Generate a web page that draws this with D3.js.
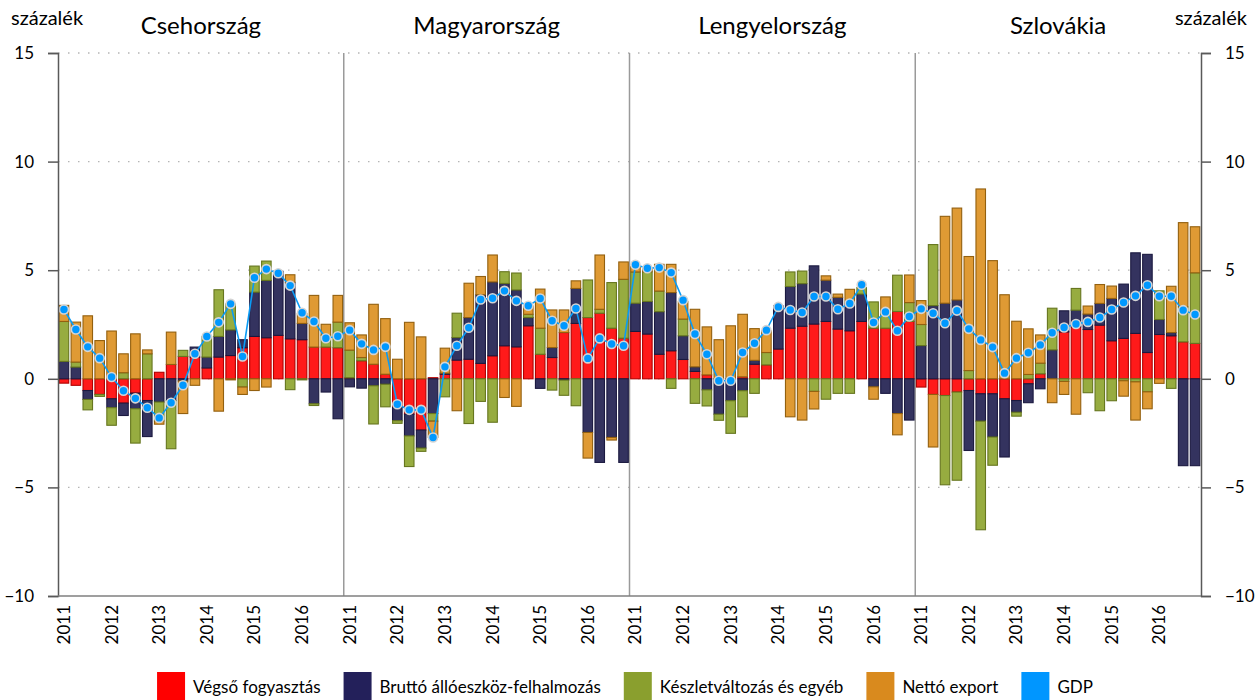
<!DOCTYPE html>
<html>
<head>
<meta charset="utf-8">
<script src="https://cdn.jsdelivr.net/npm/d3@7"></script>
<style>
    body { margin: 0; background: #fff; }
    svg { font-family: Lato, 'Open Sans', sans-serif; }
</style>
</head>
<body>
<div id="chart"></div>
<script>
const countries = ['Csehország', 'Magyarország', 'Lengyelország', 'Szlovákia'];
const years = ['2011', '2012', '2013', '2014', '2015', '2016'];
const seriesNames = ['Végső fogyasztás', 'Bruttó állóeszköz-felhalmozás', 'Készletváltozás és egyéb', 'Nettó export', 'GDP'];
const yTicks = [-10, -5, 0, 5, 10, 15];

// quarterly contributions, 2011 Q1 - 2016 Q4 (percentage points)
const czConsumption = [-0.2, -0.3, -0.54, -0.72, -0.92, -1.12, -0.66, -1.0, 0.3, 0.66, 1.03, 1.0, 0.5, 1.0, 1.07, 1.43, 1.95, 1.89, 2.0, 1.84, 1.8, 1.46, 1.46, 1.43];
const czInvestment = [0.8, 0.54, -0.41, 0, -0.41, -0.57, -0.72, -1.66, -1.07, -1.0, -0.1, 0.46, 0.5, 0.95, 1.18, 0.37, 2.04, 2.64, 2.95, 2.6, 0.75, -1.15, -0.61, -1.84];
const czInventory = [1.84, 0.23, -0.48, -0.09, -0.81, 0.28, -1.58, 1.15, -0.87, -2.22, 0.28, 0, 0.95, 2.15, 1.2, -0.38, 1.2, 0.89, 0, -0.5, -0.05, -0.08, 0.55, 1.18];
const czNetExport = [0.74, 1.84, 2.9, 1.76, 2.2, 0.87, 2.07, 0.18, -0.15, 1.49, -1.5, -0.3, 0, -1.49, -0.05, -0.34, -0.54, -0.38, 0, 0.35, 0.45, 2.38, 0.5, 1.23];
const czGdp = [3.19, 2.27, 1.47, 0.95, 0.08, -0.55, -0.9, -1.33, -1.8, -1.1, -0.3, 1.15, 1.95, 2.6, 3.45, 1.03, 4.65, 5.05, 4.86, 4.29, 3.04, 2.64, 1.87, 1.96];

const huConsumption = [0.05, 0.83, 0.67, 0.21, -1.32, -1.63, -2.36, 0.05, 0.21, 0.86, 0.9, 0.71, 1.06, 1.52, 1.47, 2.44, 1.13, 0.98, 2.13, 2.55, 2.82, 3.02, 2.33, 1.87];
const huInvestment = [-0.37, -0.43, -0.32, -0.25, -0.61, -1.0, -0.83, -1.6, 0.05, 1.04, 1.92, 3.16, 3.4, 2.87, 2.62, 0.38, -0.44, 0.46, -0.06, 1.61, -2.47, -3.85, -2.7, -3.85];
const huInventory = [1.27, 0.15, -1.76, -1.04, -0.12, -1.41, -0.15, -0.35, -0.83, 1.12, -2.06, -1.04, -2.0, 0.54, 0.78, 0.15, 1.2, -0.52, -0.7, -1.24, 1.73, 0.18, 2.1, 2.71];
const huNetExport = [1.26, 1.04, 2.76, 2.56, 0.9, 2.6, 1.93, -0.75, 1.15, -1.47, 1.58, 0.84, 1.24, -0.86, -1.27, 0.38, 1.8, 1.73, 1.04, 0.35, -1.18, 2.5, -0.12, 0.8];
const huGdp = [2.24, 1.61, 1.33, 1.47, -1.17, -1.43, -1.43, -2.7, 0.55, 1.52, 2.35, 3.65, 3.71, 4.05, 3.59, 3.36, 3.7, 2.67, 2.44, 3.24, 0.94, 1.86, 1.6, 1.52];

const plConsumption = [2.18, 2.06, 1.13, 1.29, 0.89, 0.34, 0.18, 0, 0, 0.09, 0.67, 0.64, 1.37, 2.33, 2.42, 2.52, 2.64, 2.29, 2.21, 2.64, 2.33, 2.33, 3.1, 2.64];
const plInvestment = [1.3, 1.5, 1.96, 2.68, 1.09, 0.21, -0.51, -1.63, -1.01, -0.55, 0.18, 0, 1.99, 1.92, 1.96, 2.68, 1.9, 1.46, 1.27, 1.26, -0.37, -0.67, -1.6, -1.9];
const plInventory = [1.44, 1.37, 0.95, -0.44, 0.77, -1.13, -0.74, -0.28, -1.5, -1.2, -0.67, 0.57, 0, 0.67, 0.58, -0.58, -0.94, -0.67, -0.67, 0.3, 1.21, 0.8, 1.67, 0.87];
const plNetExport = [0.25, 0.15, 1.23, 1.3, 0.81, 2.65, 2.21, 1.8, 2.44, 2.88, 1.46, 1.0, 0, -1.75, -1.9, -0.81, 0.2, 0.15, 0.64, 0, -0.57, 0.64, -0.98, 1.27];
const plGdp = [5.25, 5.09, 5.12, 4.89, 3.62, 2.06, 1.13, -0.09, -0.09, 1.21, 1.64, 2.24, 3.31, 3.17, 3.05, 3.79, 3.79, 3.2, 3.47, 4.33, 2.59, 3.08, 2.21, 2.87];

const skConsumption = [-0.38, -0.72, -0.77, -0.61, -0.54, -0.69, -0.69, -0.92, -1.0, -0.23, 0.23, 0, 2.16, 2.39, 2.27, 2.47, 1.75, 1.86, 2.09, 1.21, 2.04, 1.98, 1.7, 1.63];
const skInvestment = [1.53, 3.37, 3.48, 3.63, -2.76, -1.26, -1.99, -2.68, -0.54, -0.87, -0.46, 1.33, 0.97, 0.77, 0.71, 1.0, 1.95, 2.5, 3.71, 4.52, 0.69, 0.15, -4.0, -4.0];
const skInventory = [0.97, 2.81, -4.11, -4.06, 0.38, -5.0, -1.3, 0, -0.18, 0.2, 0.49, 1.92, -0.12, 1.0, -0.64, -1.47, -1.01, -0.09, -0.14, -0.6, 1.32, -0.44, 1.61, 3.25];
const skNetExport = [1.1, -2.42, 4.0, 4.23, 5.25, 8.74, 5.44, 3.87, 2.65, 2.1, 1.3, -1.1, -0.6, -1.63, 0.37, 0.87, 0.57, -0.71, -1.76, -0.78, -0.21, 2.13, 3.88, 2.12];
const skGdp = [3.22, 3.02, 2.56, 3.14, 2.3, 1.79, 1.46, 0.26, 0.95, 1.2, 1.56, 2.12, 2.36, 2.52, 2.62, 2.82, 3.19, 3.51, 3.82, 4.31, 3.8, 3.8, 3.16, 2.96];

const countrySeries = [
    [czConsumption, czInvestment, czInventory, czNetExport, czGdp],
    [huConsumption, huInvestment, huInventory, huNetExport, huGdp],
    [plConsumption, plInvestment, plInventory, plNetExport, plGdp],
    [skConsumption, skInvestment, skInventory, skNetExport, skGdp]
];

class GdpDecomposition {
    constructor(mountPoint) {
        this.width = 1260;
        this.height = 700;
        this.margin = {top: 53, right: 59, bottom: 104, left: 58};
        this.keys = ['cons', 'inv', 'stock', 'nx'];
        this.fills = ['#ff1a1a', '#34335f', '#97ac40', '#df9a34'];
        this.strokes = ['#b00000', '#1b1940', '#66761f', '#93600f'];
        this.legendColors = ['#ff0000', '#23205a', '#8a9f2e', '#d98a1e', '#0096ff'];

        this.svg = d3.select(`#${mountPoint}`).append('svg')
            .attr('width', this.width)
            .attr('height', this.height);

        this.buildRows();
        this.makeScales();
        this.drawGrid();
        this.drawBars();
        this.drawGdp();
        this.drawAxes();
        this.drawLegend();
    }

    buildRows() {
        this.rows = [];
        countrySeries.forEach((s, c) => {
            for (let q = 0; q < s[0].length; q++) {
                this.rows.push({
                    key: c * s[0].length + q,
                    cons: s[0][q], inv: s[1][q], stock: s[2][q], nx: s[3][q], gdp: s[4][q]
                });
            }
        });
        this.perCountry = countrySeries[0][0].length;
    }

    makeScales() {
        const m = this.margin;
        this.x = d3.scaleBand()
            .domain(this.rows.map(d => d.key))
            .range([m.left, this.width - m.right])
            .paddingInner(0.2)
            .paddingOuter(0.1);
        this.y = d3.scaleLinear()
            .domain([-10, 15])
            .range([this.height - m.bottom, m.top]);
    }

    drawGrid() {
        const m = this.margin;
        this.svg.append('g').selectAll('line')
            .data(yTicks.filter(t => t > -10))
            .join('line')
            .attr('x1', m.left)
            .attr('x2', this.width - m.right)
            .attr('y1', d => this.y(d))
            .attr('y2', d => this.y(d))
            .attr('stroke', '#b5b5b5')
            .attr('stroke-width', 1.3)
            .attr('stroke-dasharray', '1.5,8.5');

        //panel separators
        const step = this.x.step() * this.perCountry;
        this.svg.append('g').selectAll('line')
            .data(d3.range(1, countries.length))
            .join('line')
            .attr('x1', d => m.left + d * step)
            .attr('x2', d => m.left + d * step)
            .attr('y1', m.top)
            .attr('y2', this.height - m.bottom)
            .attr('stroke', '#9a9a9a')
            .attr('stroke-width', 1.5);

        this.svg.append('g').selectAll('text')
            .data(countries)
            .join('text')
            .text(d => d)
            .attr('x', (d, i) => m.left + (i + 0.5) * step)
            .attr('y', 34)
            .attr('text-anchor', 'middle')
            .attr('font-size', 24)
            .attr('fill', '#000');
    }

    drawBars() {
        const stacked = d3.stack()
            .keys(this.keys)
            .offset(d3.stackOffsetDiverging)(this.rows);

        this.svg.append('g').selectAll('g')
            .data(stacked)
            .join('g')
            .attr('fill', (d, i) => this.fills[i])
            .attr('stroke', (d, i) => this.strokes[i])
            .attr('stroke-width', 1.1)
            .selectAll('rect')
            .data(d => d.filter(p => p[1] !== p[0]))
            .join('rect')
            .attr('x', d => this.x(d.data.key))
            .attr('width', this.x.bandwidth())
            .attr('y', d => this.y(Math.max(d[0], d[1])))
            .attr('height', d => Math.abs(this.y(d[0]) - this.y(d[1])));
    }

    drawGdp() {
        const cx = d => this.x(d.key) + this.x.bandwidth() / 2;
        const line = d3.line()
            .x(cx)
            .y(d => this.y(d.gdp));

        this.svg.append('path')
            .datum(this.rows)
            .attr('d', line)
            .attr('fill', 'none')
            .attr('stroke', '#0a9bf5')
            .attr('stroke-width', 1.6);

        this.svg.append('g').selectAll('circle')
            .data(this.rows)
            .join('circle')
            .attr('cx', cx)
            .attr('cy', d => this.y(d.gdp))
            .attr('r', 4.5)
            .attr('fill', '#0098ff')
            .attr('stroke', '#d4d4d4')
            .attr('stroke-width', 1.6);
    }

    drawAxes() {
        const m = this.margin;
        const left = this.svg.append('g')
            .attr('transform', `translate(${m.left},0)`)
            .call(d3.axisLeft(this.y).tickValues(yTicks).tickSize(10).tickPadding(14));
        const right = this.svg.append('g')
            .attr('transform', `translate(${this.width - m.right},0)`)
            .call(d3.axisRight(this.y).tickValues(yTicks).tickSize(10).tickPadding(14));
        [left, right].forEach(g => {
            g.select('.domain').attr('stroke', '#595959').attr('stroke-width', 1.5);
            g.selectAll('.tick line').attr('stroke', '#595959').attr('stroke-width', 1.5);
            g.selectAll('.tick text').attr('font-size', 17).attr('fill', '#000')
                .attr('font-family', 'Lato, sans-serif');
        });

        this.svg.append('line')
            .attr('x1', m.left)
            .attr('x2', this.width - m.right)
            .attr('y1', this.y(-10))
            .attr('y2', this.y(-10))
            .attr('stroke', '#7f7f7f')
            .attr('stroke-width', 1.5);

        this.svg.append('text').text('százalék')
            .attr('x', 11).attr('y', 25).attr('font-size', 20);
        this.svg.append('text').text('százalék')
            .attr('x', 1247).attr('y', 25).attr('font-size', 20)
            .attr('text-anchor', 'end');

        //year labels, first quarter of every year in each panel
        const yearTicks = [];
        countries.forEach((c, ci) => {
            years.forEach((yr, yi) => yearTicks.push({label: yr, key: ci * this.perCountry + yi * 4}));
        });
        const baseY = this.y(-10) + 9;
        this.svg.append('g').selectAll('text')
            .data(yearTicks)
            .join('text')
            .text(d => d.label)
            .attr('font-size', 17)
            .attr('text-anchor', 'end')
            .attr('dy', '0.35em')
            .attr('transform', d => {
                const xPos = this.x(d.key) + this.x.bandwidth() / 2;
                return `translate(${xPos},${baseY}) rotate(-90)`;
            });
    }

    drawLegend() {
        const box = 28, gap = 8, itemGap = 23;
        const legend = this.svg.append('g');
        const items = legend.selectAll('g')
            .data(seriesNames)
            .join('g');
        items.append('rect')
            .attr('width', box)
            .attr('height', box)
            .attr('fill', (d, i) => this.legendColors[i]);
        items.append('text')
            .text(d => d)
            .attr('x', box + gap)
            .attr('y', 21)
            .attr('font-size', 17);

        let nextX = 0;
        const offsets = [];
        items.each(function () {
            offsets.push(nextX);
            nextX += this.getBBox().width + itemGap;
        });
        const total = nextX - itemGap;
        const startX = 625 - total / 2;
        items.attr('transform', (d, i) => `translate(${startX + offsets[i]},672)`);
    }
}

new GdpDecomposition('chart');
</script>
</body>
</html>
